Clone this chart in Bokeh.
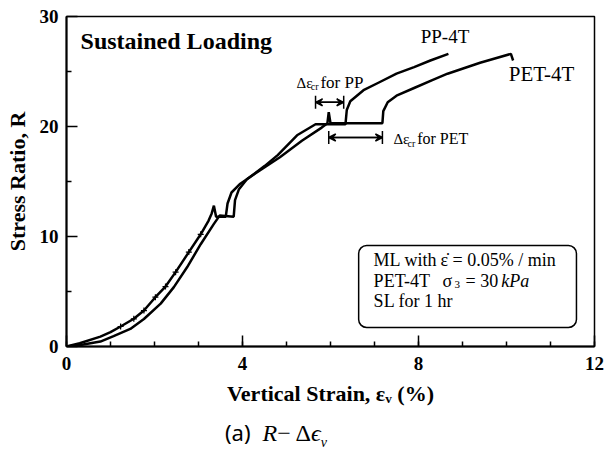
from bokeh.plotting import figure
from bokeh.models import Range1d, FixedTicker, Label, BoxAnnotation, Arrow, VeeHead, TeeHead, Div
from bokeh.layouts import column
from bokeh.embed import file_html
from bokeh.resources import INLINE

# ---- data ----
pet_x = [0, 0.3, 0.77, 1.0, 1.23, 1.53, 1.76, 2.02, 2.25, 2.48, 2.78, 3.05, 3.23, 3.3, 3.35,
         3.4, 3.62, 3.66, 3.75, 3.95, 4.35, 4.85, 5.35, 5.8, 5.93, 5.96, 6.0, 7.18, 7.2,
         7.3, 7.5, 7.9, 8.3, 8.66, 9.4, 10.1, 10.15]
pet_y = [0, 0.3, 0.9, 1.3, 1.82, 2.52, 3.27, 4.48, 5.45, 6.76, 8.58, 10.2, 11.45, 12.1, 12.8,
         11.8, 11.8, 13.0, 14.0, 14.8, 15.9, 17.2, 18.7, 19.9, 20.3, 21.3, 20.3, 20.3, 21.4,
         22.2, 22.8, 23.5, 24.2, 24.8, 25.8, 26.6, 26.0]
pp_x = [0, 0.35, 0.77, 1.07, 1.45, 1.76, 2.14, 2.44, 2.74, 3.05, 3.35, 3.48, 3.8, 3.83, 3.92,
        4.1, 4.5, 4.8, 5.24, 5.66, 6.34, 6.37, 6.45, 6.75, 7.1, 7.5, 7.9, 8.27, 8.68]
pp_y = [0, 0.15, 0.45, 0.95, 1.6, 2.5, 3.9, 5.4, 7.2, 9.3, 11.15, 11.9, 11.8, 13.3, 14.3,
        15.2, 16.4, 17.4, 19.2, 20.2, 20.2, 21.5, 22.3, 23.3, 24.0, 24.8, 25.4, 26.0, 26.6]
x_ticks = [0, 4, 8, 12]
x_minor = list(range(0, 13))
y_ticks = [0, 10, 20, 30]
y_minor = [5, 15, 25]
pp_creep = (5.66, 6.3)
pet_creep = (5.96, 7.18)

SERIF = "Liberation Serif"

p = figure(width=604, height=420, output_backend="svg", toolbar_location=None,
           x_range=Range1d(0, 12), y_range=Range1d(0, 30),
           min_border_left=66, min_border_right=10, min_border_top=16, min_border_bottom=74)
p.background_fill_color = "white"
p.border_fill_color = "white"
p.grid.visible = False
p.outline_line_color = "black"
p.outline_line_width = 1.5

p.xaxis.ticker = FixedTicker(ticks=x_ticks, minor_ticks=x_minor)
p.yaxis.ticker = FixedTicker(ticks=y_ticks, minor_ticks=y_minor)
for ax in (p.xaxis[0], p.yaxis[0]):
    ax.axis_line_width = 2
    ax.major_tick_in = 11
    ax.major_tick_out = 0
    ax.minor_tick_in = 5
    ax.minor_tick_out = 0
    ax.major_tick_line_width = 1.5
    ax.minor_tick_line_width = 1.5
    ax.major_label_text_font = SERIF
    ax.major_label_text_font_style = "bold"
    ax.major_label_text_font_size = "19px"
    ax.major_label_text_color = "black"
    ax.axis_label_text_font = SERIF
    ax.axis_label_text_font_style = "bold"
    ax.axis_label_text_font_size = "22px"
    ax.axis_label_text_color = "black"
p.xaxis.major_label_standoff = 10
p.xaxis.axis_label_standoff = 8
p.yaxis.major_label_standoff = 8
p.yaxis.axis_label_standoff = 7
p.xaxis.axis_label = "Vertical Strain, \u03b5\u1d65 (%)"
p.yaxis.axis_label = "Stress Ratio, R"

p.line(pp_x, pp_y, line_color="black", line_width=2.5)
p.line(pet_x, pet_y, line_color="black", line_width=2.5)
p.scatter(pet_x[4:12], pet_y[4:12], marker="cross", size=6, line_color="black", line_width=1.2)

def lab(x, y, text, size, style="normal", font=SERIF, baseline="middle", align="left"):
    p.add_layout(Label(x=x, y=y, text=text, text_font=font, text_font_size=size,
                       text_font_style=style, text_color="black",
                       text_baseline=baseline, text_align=align))

lab(0.32, 27.8, "Sustained Loading", "24px", "bold")
lab(8.05, 28.2, "PP-4T", "19px")
lab(10.05, 24.8, "PET-4T", "21px")

# creep annotations
lab(5.23, 24.0, "\u0394\u03b5", "15px")
lab(5.55, 23.6, "cr", "10px")
lab(5.77, 24.0, "for PP", "17px")
lab(7.43, 18.9, "\u0394\u03b5", "15px")
lab(7.75, 18.5, "cr", "10px")
lab(7.97, 18.9, "for PET", "16px")

for (xs, xe), yy in ((pp_creep, 22.2), (pet_creep, 19.0)):
    p.add_layout(Arrow(x_start=xs, y_start=yy, x_end=xe, y_end=yy, line_width=1.5,
                       start=VeeHead(size=7, line_width=1.5, fill_color="black"),
                       end=VeeHead(size=7, line_width=1.5, fill_color="black")))
    p.add_layout(Arrow(x_start=xs, y_start=yy, x_end=xe, y_end=yy, line_width=1.5,
                       start=TeeHead(size=13, line_width=1.5),
                       end=TeeHead(size=13, line_width=1.5)))

# condition box
p.add_layout(BoxAnnotation(left=6.64, right=11.59, bottom=1.73, top=9.18,
                           fill_color="white", fill_alpha=1, line_color="black",
                           line_alpha=1, line_width=1.5, border_radius=8))
lab(6.98, 7.82, "ML with", "18px")
lab(8.5, 7.82, "\u03b5\u0307 = 0.05% / min", "18px")
lab(6.98, 6.0, "PET-4T", "18px")
lab(8.545, 6.0, "\u03c3", "18px")
lab(8.82, 5.6, "3", "11px")
lab(9.07, 6.0, "= 30", "18px")
lab(9.88, 6.0, "kPa", "18px", "italic")
lab(6.98, 4.18, "SL for 1 hr", "18px")

caption = Div(
    text=('<span style="font-family:\'Noto Sans\';font-size:22px">(a)</span>'
          '<span style="font-family:\'Liberation Serif\';font-size:24px;margin-left:12px">'
          '<i>R</i>&minus;&thinsp;&Delta;<i>&#x3f5;<sub style="font-size:14px">v</sub></i></span>'),
    width=604, height=35, margin=(0, 0, 0, 0),
    styles={"padding-left": "225px", "line-height": "24px", "color": "black"})

open("out.html", "w").write(file_html(column(p, caption, spacing=0), INLINE))
